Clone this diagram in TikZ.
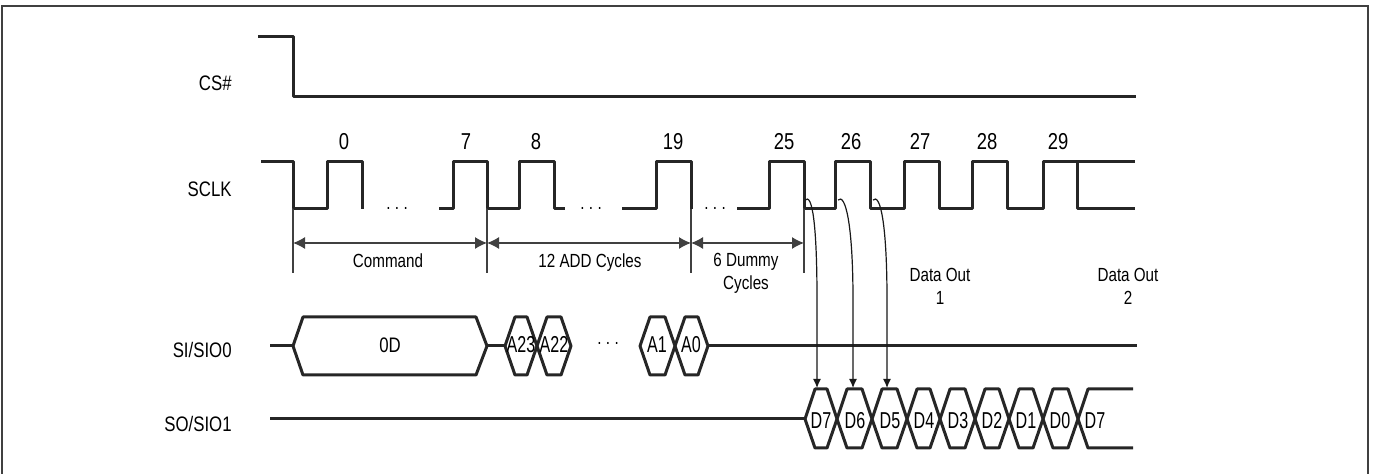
\documentclass[tikz,border=0pt]{standalone}
\usepackage{fontspec}
\setmainfont{Liberation Sans}[FakeStretch=0.8]
\newfontfamily\hexfont{Liberation Sans}[FakeStretch=0.7]
\usetikzlibrary{arrows.meta}
\newcommand{\wavedots}{.\hspace{2.2pt}.\hspace{2.2pt}.}
\begin{document}
\begin{tikzpicture}[x=0.5pt, y=-0.5pt]
  \tikzstyle{wave} = [line width=1.5pt, black!85, line join=round]
  \tikzstyle{guide} = [line width=0.6pt, black!75]
  \tikzstyle{dimarrow} = [guide, {Latex[length=6pt,width=6pt]}-{Latex[length=6pt,width=6pt]}]
  \tikzstyle{edgearrow} = [line width=0.6pt, black!90, -{Latex[length=4.5pt,width=4pt]}]
  \tikzstyle{signame} = [anchor=base east, inner sep=0pt, font=\fontsize{10.5}{12}\selectfont]
  \tikzstyle{clknum} = [anchor=base, inner sep=0pt, font=\fontsize{11.5}{13}\selectfont]
  \tikzstyle{lbl} = [anchor=base, inner sep=0pt, align=center, font=\fontsize{9.5}{11.5}\selectfont]
  \tikzstyle{hexlbl} = [anchor=base, inner sep=0pt, font=\hexfont\fontsize{11.5}{13}\selectfont]

  \useasboundingbox (0,0) rectangle (1376,474);
  \draw[line width=1pt, black!75] (1.5,480) -- (1.5,6) -- (1368,6) -- (1368,480);

  % Signal names
  \node[signame] (cs) at (232,90.5) {CS\#};
  \node[signame] (sclk) at (232,196.5) {SCLK};
  \node[signame] (si) at (232,358) {SI/SIO0};
  \node[signame] (so) at (232,432) {SO/SIO1};

  % CS#
  \draw[wave] (258,37) -- (293,37) -- (293,97) -- (1136,97);

  % SCLK
  \draw[wave] (261,162) -- (293,162) -- (293,209) -- (327,209) -- (327,162) -- (362,162) -- (362,209);
  \draw[wave] (439,209) -- (453,209) -- (453,162) -- (487,162) -- (487,209) -- (519,209) -- (519,162) -- (554,162) -- (554,209) -- (565,209);
  \draw[wave] (622,209) -- (656,209) -- (656,162) -- (691,162) -- (691,209);
  \draw[wave] (737,209) \foreach \r in {769,835,904,972} { -- (\r,209) -- (\r,162) -- (\r+35,162) -- (\r+35,209) }
    -- (1043,209) -- (1043,162) -- (1135,162);
  \draw[wave] (1077,162) -- (1077,209) -- (1135,209);
  \foreach \n/\x in {0/344,7/466,8/536,19/673,25/784,26/851,27/920,28/987,29/1058}
    \node[clknum] (n\n) at (\x,150) {\n};
  \node[lbl] (dotsa) at (397,210) {\wavedots};
  \node[lbl] (dotsb) at (591,210) {\wavedots};
  \node[lbl] (dotsc) at (715,210) {\wavedots};

  % Cycle spans
  \foreach \m/\x in {m1/293,m2/487,m3/691,m4/804} {
    \coordinate (\m) at (\x,243);
    \draw[guide] (\x,209) -- (\x,273);
  }
  \draw[dimarrow] (m1) -- (m2);
  \draw[dimarrow] (m2) -- (m3);
  \draw[dimarrow] (m3) -- (m4);
  \node[lbl] (cmd) at (388,268) {Command};
  \node[lbl] (add) at (590,268) {12 ADD Cycles};
  \node[lbl] (dummy) at (746,290) {6 Dummy\\Cycles};
  \node[lbl] (out1) at (940,305) {Data Out\\1};
  \node[lbl] (out2) at (1128,305) {Data Out\\2};

  % SI/SIO0
  \draw[wave] (270,346) -- (293,346);
  \draw[wave] (293,346) -- (303,317) -- (476,317) -- (487,346) -- (476,375) -- (303,375) -- cycle;
  \node[lbl, font=\fontsize{10.5}{12}\selectfont] (cmdbyte) at (390,353) {0D};
  \draw[wave] (487,346) -- (505,346);
  \foreach \l/\r in {505/537,537/571,640/675,675/708}
    \draw[wave] (\l,346) -- (\l+10,317) -- (\r-10,317) -- (\r,346) -- (\r-10,375) -- (\l+10,375) -- cycle;
  \draw[wave] (708,346) -- (1137,346);
  \foreach \a/\x in {23/521,22/554,1/657,0/691}
    \node[hexlbl] (a\a) at (\x,353) {A\a};
  \node[lbl] (dotsd) at (608,345) {\wavedots};

  % SO/SIO1
  \draw[wave] (270,419) -- (805,419);
  \foreach \l/\r in {805/837,837/872,872/907,907/940,940/975,975/1009,1009/1043,1043/1078}
    \draw[wave] (\l,419) -- (\l+10,389) -- (\r-10,389) -- (\r,419) -- (\r-10,448) -- (\l+10,448) -- cycle;
  \draw[wave] (1133,389) -- (1088,389) -- (1078,419) -- (1088,448) -- (1133,448);
  \foreach \d/\x in {7/821,6/855,5/890,4/924,3/958,2/992,1/1026,0/1060}
    \node[hexlbl] (d\d) at (\x,429) {D\d};
  \node[hexlbl] (dnext) at (1095,429) {D7};

  % Clock edge to data
  \foreach \s/\e [count=\i] in {805/817,838/853,873/887} {
    \coordinate (src\i) at (\s,200);
    \coordinate (dst\i) at (\e,388);
    \draw[edgearrow] (src\i) .. controls (\s+7,193) and (\e,222) .. (\e,300) -- (dst\i);
  }
\end{tikzpicture}
\end{document}
